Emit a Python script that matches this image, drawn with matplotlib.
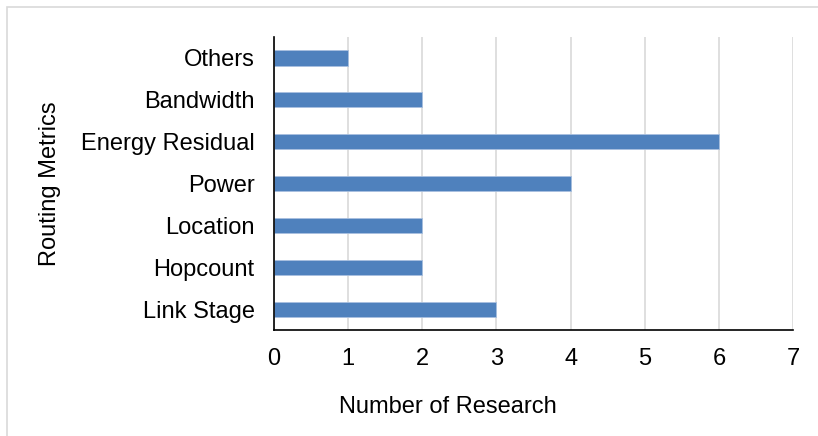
import matplotlib.pyplot as plt
from matplotlib.patches import Rectangle

plt.rcParams['font.family'] = ['Liberation Sans', 'DejaVu Sans']

metrics = ["Link Stage", "Hopcount", "Location", "Power", "Energy Residual", "Bandwidth", "Others"]
counts = [3, 2, 2, 4, 6, 2, 1]
xticks = [0, 1, 2, 3, 4, 5, 6, 7]

fig = plt.figure(figsize=(8.18, 4.36), dpi=100)
ax = fig.add_axes([0.335, 0.243, 0.6345, 0.672])

ax.barh(metrics, counts, height=0.36, color='#4f81bd', edgecolor='#a9c0e0', linewidth=0.6, zorder=3)
ax.set_xlim(0, 7)
ax.set_ylim(-0.5, len(metrics) - 0.5)
ax.set_xticks(xticks)
ax.xaxis.grid(True, color='#d9d9d9', linewidth=1.2, zorder=0)
ax.tick_params(axis='both', length=0, labelsize=17)
ax.tick_params(axis='y', pad=14)
ax.tick_params(axis='x', pad=13)
for s in ['top', 'right']:
    ax.spines[s].set_visible(False)
for s in ['left', 'bottom']:
    ax.spines[s].set_color('black')
    ax.spines[s].set_linewidth(1.2)
    ax.spines[s].set_zorder(4)

ax.set_xlabel("Number of Research", fontsize=17, labelpad=19)
ax.xaxis.label.set_x(0.335)
ax.set_ylabel("Routing Metrics", fontsize=17, labelpad=14)

fig.patches.append(Rectangle((7 / 818, -0.1), 1.2, 1 - 7 / 436 + 0.1, transform=fig.transFigure,
                             fill=False, edgecolor='#d9d9d9', linewidth=1.2))

fig.savefig('out.png', dpi=100)
